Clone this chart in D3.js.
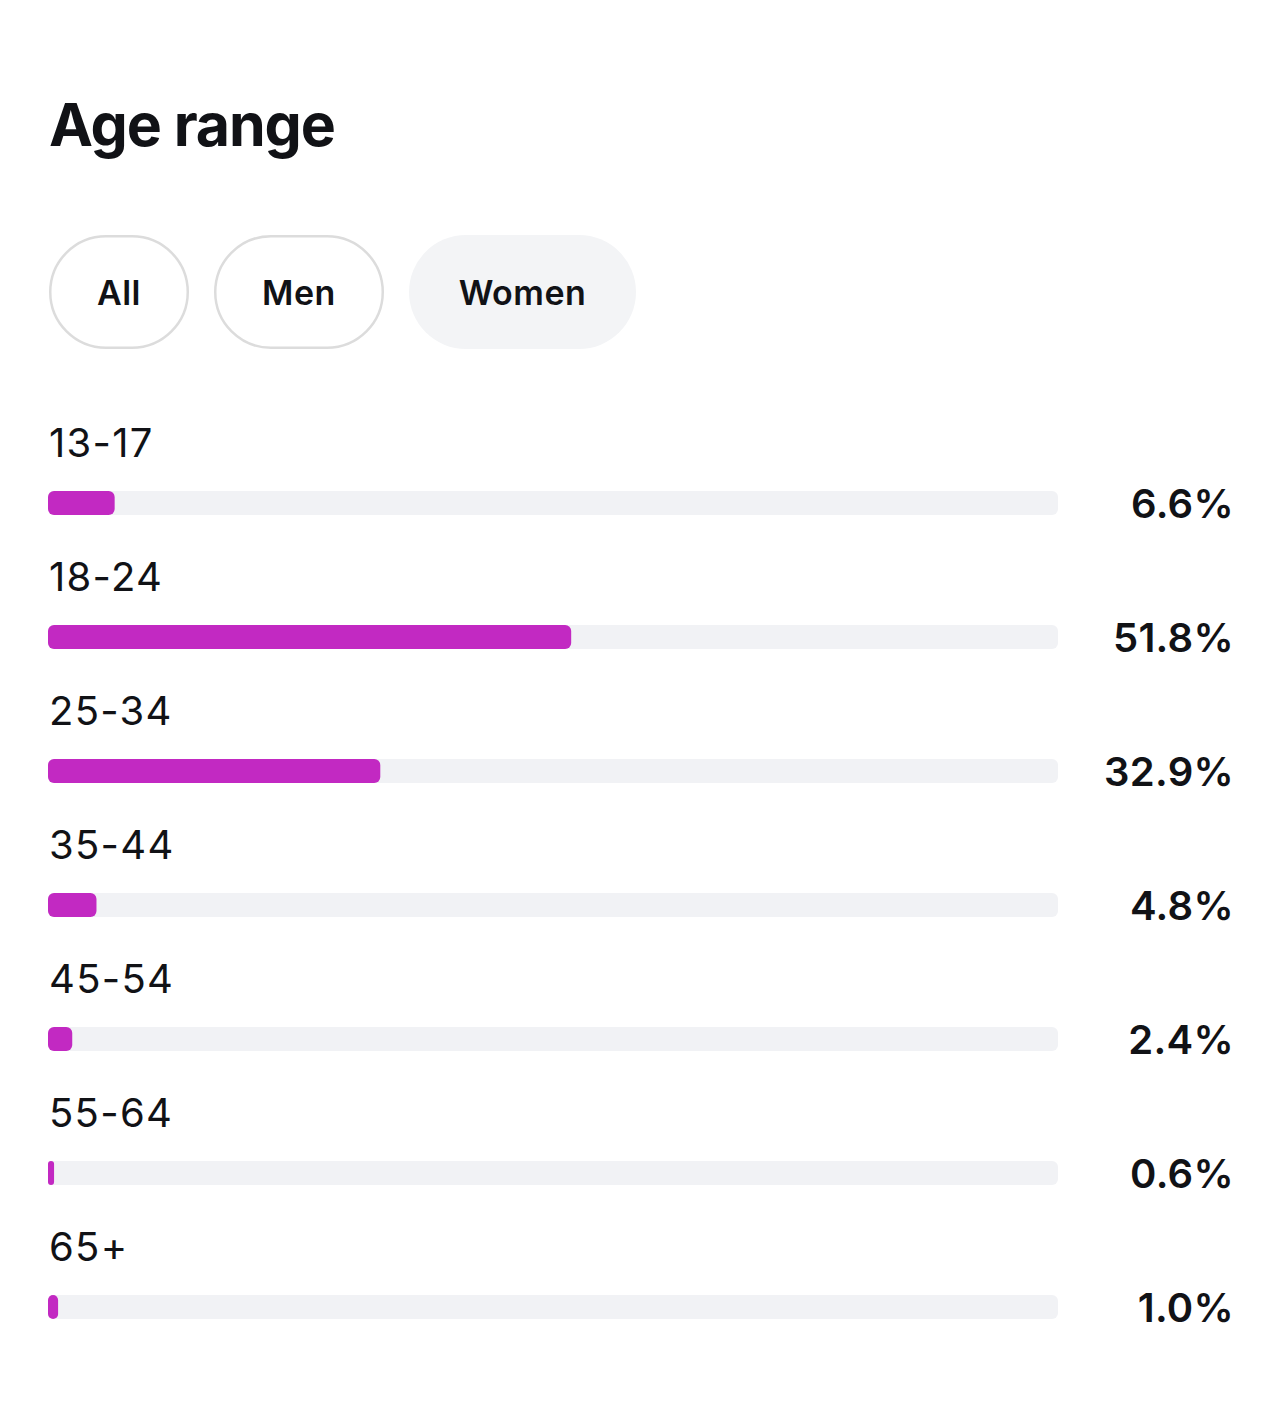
<!DOCTYPE html>
<html>
<head>
<meta charset="utf-8">
<script src="https://cdn.jsdelivr.net/npm/d3@7"></script>
<style>
  body { margin: 0; background: #fff; }
  svg { display: block; font-family: Inter, "Noto Sans", sans-serif; }
</style>
</head>
<body>
<svg id="chart" width="1284" height="1410"></svg>
<script>
// data
var ageGroups = ["13-17", "18-24", "25-34", "35-44", "45-54", "55-64", "65+"];
var womenShare = [6.6, 51.8, 32.9, 4.8, 2.4, 0.6, 1.0];
var filters = ["All", "Men", "Women"];
var activeFilter = "Women";

var svg = d3.select("#chart");

// title
svg.append("text")
  .attr("x", 49).attr("y", 146)
  .attr("font-size", 59).attr("font-weight", 700)
  .attr("fill", "#111216")
  .attr("letter-spacing", -1.1)
  .text("Age range");

// filter pills
var pillWidths = { "All": 140, "Men": 170, "Women": 227 };
var px = 49;
filters.forEach(function(f) {
  var w = pillWidths[f];
  var g = svg.append("g").attr("transform", "translate(" + px + ",235)");
  var on = f === activeFilter;
  g.append("rect")
    .attr("x", on ? 0 : 1.25).attr("y", on ? 0 : 1.25)
    .attr("width", on ? w : w - 2.5).attr("height", on ? 114 : 111.5)
    .attr("rx", on ? 57 : 55.75)
    .attr("fill", on ? "#f3f4f6" : "#fff")
    .attr("stroke", on ? "none" : "#dcdcdc")
    .attr("stroke-width", 2.5);
  g.append("text")
    .attr("x", w / 2).attr("y", 70)
    .attr("text-anchor", "middle")
    .attr("font-size", 34).attr("font-weight", 600)
    .attr("fill", "#111216")
    .attr("letter-spacing", 0.5)
    .text(f);
  px += w + 25;
});

// bars
var x = d3.scaleLinear().domain([0, 100]).range([0, 1010]);
var rowY = d3.scaleBand().domain(ageGroups).range([410, 1348]);

var rows = svg.selectAll("g.row")
  .data(ageGroups)
  .enter().append("g")
  .attr("class", "row")
  .attr("transform", function(d) { return "translate(48," + rowY(d) + ")"; });

rows.append("text")
  .attr("x", 1).attr("y", 47)
  .attr("font-size", 40).attr("font-weight", 400)
  .attr("fill", "#111216")
  .attr("letter-spacing", 1.3)
  .text(function(d) { return d; });

rows.append("rect")
  .attr("y", 81).attr("width", x(100)).attr("height", 24)
  .attr("rx", 6)
  .attr("fill", "#f1f2f5");

rows.append("rect")
  .attr("y", 81)
  .attr("width", function(d, i) { return Math.max(x(womenShare[i]), 5); })
  .attr("height", 24)
  .attr("rx", function(d, i) { return Math.min(6, x(womenShare[i]) / 2); })
  .attr("fill", "#c229c2");

rows.append("text")
  .attr("x", 1186).attr("y", 108)
  .attr("text-anchor", "end")
  .attr("font-size", 40).attr("font-weight", 600)
  .attr("fill", "#111216")
  .attr("letter-spacing", 0.3)
  .text(function(d, i) { return womenShare[i].toFixed(1) + "%"; });
</script>
</body>
</html>
